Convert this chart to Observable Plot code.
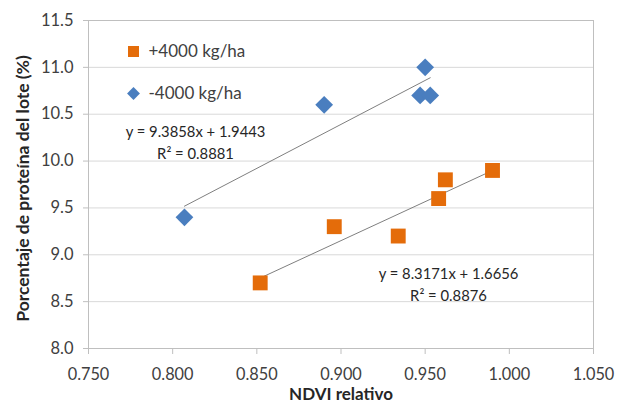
<!DOCTYPE html>
<html>
<head>
<meta charset="utf-8">
<script src="https://cdn.jsdelivr.net/npm/d3@7"></script>
<script src="https://cdn.jsdelivr.net/npm/@observablehq/plot@0.6"></script>
<style>
  html, body { margin: 0; padding: 0; background: #fff; }
  #chart svg { display: block; }
</style>
</head>
<body>
<div id="chart"></div>
<script>
// Data
const seriesNames = ["+4000 kg/ha", "-4000 kg/ha"];
const plusX  = [0.852, 0.896, 0.934, 0.958, 0.962, 0.990];
const plusY  = [8.7, 9.3, 9.2, 9.6, 9.8, 9.9];
const minusX = [0.807, 0.890, 0.947, 0.950, 0.953];
const minusY = [9.4, 10.6, 10.7, 11.0, 10.7];
const slopes = [8.3171, 9.3858];
const intercepts = [1.6656, 1.9443];
const equations = ["y = 8.3171x + 1.6656", "y = 9.3858x + 1.9443"];
const r2Labels = ["R² = 0.8876", "R² = 0.8881"];
const xTicks = [0.75, 0.80, 0.85, 0.90, 0.95, 1.00, 1.05];
const yTicks = [8.0, 8.5, 9.0, 9.5, 10.0, 10.5, 11.0, 11.5];

const orange = "#E46C0A";
const blue = "#4A7EBF";
const font = "Lato, 'Open Sans', sans-serif";

const plusData = plusX.map((x, i) => ({x, y: plusY[i]}));
const minusData = minusX.map((x, i) => ({x, y: minusY[i]}));

function trend(xs, k) {
  const x0 = d3.min(xs), x1 = d3.max(xs);
  return [x0, x1].map(x => ({x, y: slopes[k] * x + intercepts[k]}));
}

const chart = Plot.plot({
  width: 621,
  height: 403,
  marginLeft: 88,
  marginRight: 28,
  marginTop: 20,
  marginBottom: 55,
  style: {fontFamily: font, background: "#fff"},
  x: {domain: [0.75, 1.05], ticks: xTicks, tickFormat: d3.format(".3f")},
  y: {domain: [8, 11.5], ticks: yTicks, tickFormat: d3.format(".1f")},
  marks: [
    Plot.gridY(yTicks, {stroke: "#d9d9d9", strokeOpacity: 1}),
    Plot.frame({stroke: "#bfbfbf"}),
    Plot.axisX({ticks: xTicks, tickFormat: d3.format(".3f"), tickSize: 6, tickPadding: 14, fontSize: 16.3, fill: "#404040", stroke: "#bfbfbf", label: null}),
    Plot.axisY({ticks: yTicks, tickFormat: d3.format(".1f"), tickSize: 5, tickPadding: 10, fontSize: 16.5, fill: "#404040", stroke: "#bfbfbf", label: null}),
    // trend lines
    Plot.line(trend(plusX, 0), {x: "x", y: "y", stroke: "#7f7f7f", strokeWidth: 1}),
    Plot.line(trend(minusX, 1), {x: "x", y: "y", stroke: "#7f7f7f", strokeWidth: 1}),
    // points
    Plot.dot(minusData, {x: "x", y: "y", symbol: "diamond2", r: 8, fill: blue, stroke: "none"}),
    Plot.dot(plusData, {x: "x", y: "y", symbol: "square", r: 8.4, fill: orange, stroke: "none"}),
    // legend
    Plot.dot([seriesNames[0]], {frameAnchor: "top-left", dx: 45, dy: 31, symbol: "square", r: 6.2, fill: orange}),
    Plot.text([seriesNames[0]], {frameAnchor: "top-left", dx: 60, dy: 31, text: d => d, textAnchor: "start", lineAnchor: "middle", fontSize: 17, fill: "#404040"}),
    Plot.dot([seriesNames[1]], {frameAnchor: "top-left", dx: 45, dy: 73, symbol: "diamond2", r: 5.8, fill: blue}),
    Plot.text([seriesNames[1]], {frameAnchor: "top-left", dx: 60, dy: 73, text: d => d, textAnchor: "start", lineAnchor: "middle", fontSize: 17, fill: "#404040"}),
    // equations
    Plot.text([equations[1]], {frameAnchor: "top-left", dx: 107, dy: 112, text: d => d, textAnchor: "middle", lineAnchor: "middle", fontSize: 14.8, fill: "#262626"}),
    Plot.text([r2Labels[1]], {frameAnchor: "top-left", dx: 107, dy: 134, text: d => d, textAnchor: "middle", lineAnchor: "middle", fontSize: 14.8, fill: "#262626"}),
    Plot.text([equations[0]], {frameAnchor: "top-left", dx: 360, dy: 254, text: d => d, textAnchor: "middle", lineAnchor: "middle", fontSize: 14.8, fill: "#262626"}),
    Plot.text([r2Labels[0]], {frameAnchor: "top-left", dx: 360, dy: 276, text: d => d, textAnchor: "middle", lineAnchor: "middle", fontSize: 14.8, fill: "#262626"}),
    // axis titles
    Plot.text(["NDVI relativo"], {frameAnchor: "bottom", dy: 46.5, text: d => d, lineAnchor: "middle", fontSize: 17, fontWeight: "bold", fill: "#262626"}),
    Plot.text(["Porcentaje de proteína del lote (%)"], {frameAnchor: "left", dx: -65, dy: 4, rotate: -90, text: d => d, textAnchor: "middle", lineAnchor: "middle", fontSize: 17.5, fontWeight: "bold", fill: "#262626"})
  ]
});

document.getElementById("chart").appendChild(chart);
</script>
</body>
</html>
